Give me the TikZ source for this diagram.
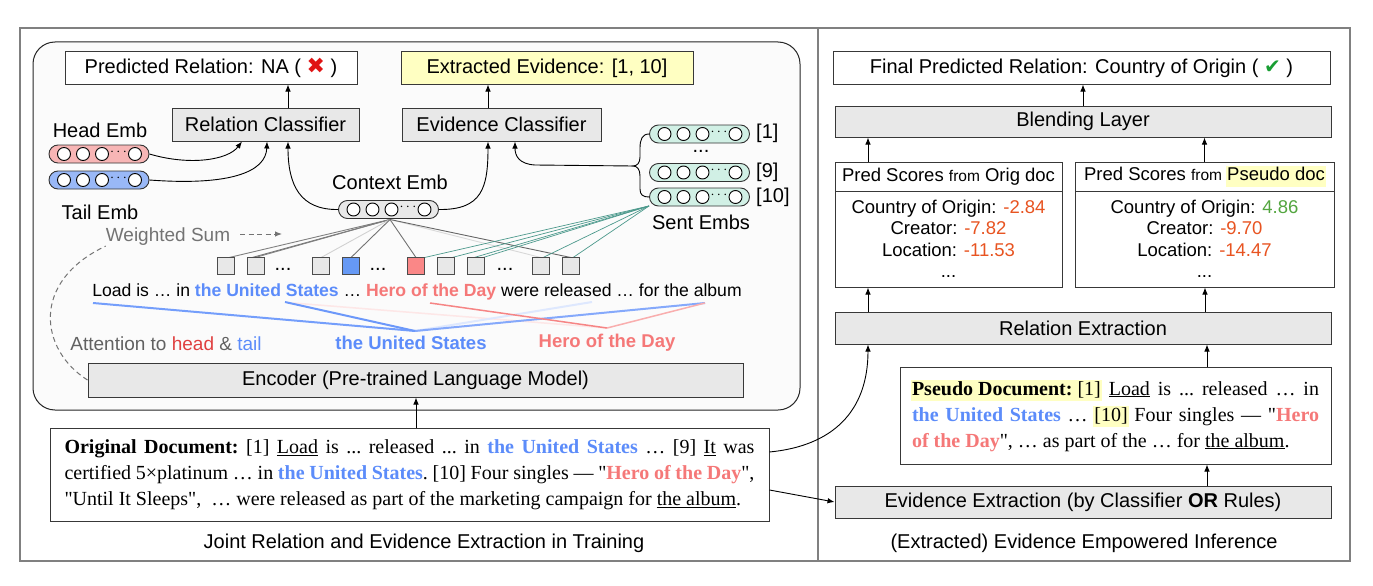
\documentclass[tikz,border=0pt]{standalone}
\usepackage{fontspec}
\setmainfont{Liberation Serif}
\setsansfont{Liberation Sans}
\newfontfamily\symfont{DejaVu Sans}
\newfontfamily\qfont{Liberation Serif}
\usetikzlibrary{arrows.meta,calc}
\definecolor{boxgray}{gray}{0.91}
\definecolor{hly}{rgb}{1,1,0.76}
\definecolor{entblue}{rgb}{0.36,0.55,0.98}
\definecolor{entred}{rgb}{0.96,0.47,0.47}
\definecolor{headred}{rgb}{0.88,0.25,0.25}
\definecolor{scorered}{rgb}{0.91,0.33,0.13}
\definecolor{scoregreen}{rgb}{0.33,0.65,0.25}
\definecolor{checkgreen}{rgb}{0.10,0.62,0.20}
\definecolor{crossred}{rgb}{0.88,0.08,0.08}
\definecolor{headpink}{rgb}{0.97,0.71,0.71}
\definecolor{tailblue}{rgb}{0.60,0.72,0.97}
\definecolor{sentteal}{rgb}{0.82,0.94,0.90}
\definecolor{tealline}{rgb}{0.30,0.60,0.55}
\definecolor{panelbg}{gray}{0.985}
\definecolor{tokblue}{rgb}{0.40,0.60,0.96}
\definecolor{tokred}{rgb}{0.98,0.53,0.53}
\newcommand\hlt[1]{{\setlength\fboxsep{1.5pt}\kern-1.5pt\colorbox{hly}{\rule[-4pt]{0pt}{16pt}#1}\kern-1.5pt}}
\newcommand\dq{{\qfont\symbol{34}}}
\tikzset{
  pics/pill/.style={code={
    \node[draw=black!80, line width=0.9pt, fill=#1, rounded corners=9pt,
          minimum width=100pt, minimum height=18pt, inner sep=0pt] (-b) at (0,0) {};
    \foreach \cx in {-35,-16,3,36} \draw[fill=white, line width=0.9pt] (\cx,0) circle (6.5pt);
    \node[inner sep=0pt, font=\fontsize{14}{14}\selectfont] (-d) at (19.5,-2) {$\cdots$};
  }}
}
\begin{document}
\begin{tikzpicture}[x=1pt,y=-1pt,
  lbl/.style={inner sep=0pt, font=\sffamily\fontsize{20}{24}\selectfont},
  box/.style={draw=black!78, line width=1pt, inner sep=0pt, font=\sffamily\fontsize{20}{24}\selectfont},
  gbox/.style={box, fill=boxgray},
  arr/.style={-{Latex[length=7pt,width=5.5pt]}, line width=0.9pt},
  tok/.style={draw=black!70, line width=0.9pt, fill=boxgray, minimum size=16pt, inner sep=0pt},
  docbox/.style={box, fill=white, align=justify, font=\rmfamily\fontsize{20}{26}\selectfont\frenchspacing}
]
\path[use as bounding box] (0,0) rectangle (1373,586);
\fill[white] (0,0) rectangle (1373,586);
\draw[black!50, line width=1.5pt] (20,28) rectangle (1350,561);
\draw[black!50, line width=1.5pt] (818,28) -- (818,561);
\draw[black!85, line width=1pt, fill=panelbg, rounded corners=22pt] (33,42) rectangle (800,410);

% ---------- left: top boxes
\node[box, fill=white, minimum width=292pt, minimum height=32pt] (pred) at (211,68)
  {Predicted Relation: NA ( {\symfont\fontsize{22}{24}\selectfont\color{crossred}✖} )};
\node[box, fill=hly, minimum width=292pt, minimum height=32pt] (evid) at (547,68)
  {Extracted Evidence: [1, 10]};
\node[gbox, minimum width=187pt, minimum height=33pt] (rc) at (265.5,124.5) {Relation Classifier};
\node[gbox, minimum width=199pt, minimum height=33pt] (ec) at (501.5,124.5) {Evidence Classifier};
\draw[arr] ([xshift=22.5pt]rc.north) -- ([xshift=22.5pt]rc.north |- pred.south);
\draw[arr] ([xshift=-13.5pt]ec.north) -- ([xshift=-13.5pt]ec.north |- evid.south);

% ---------- embeddings
\pic (head) at (99,154) {pill=headpink};
\pic (tail) at (99,180) {pill=tailblue};
\pic (ctx) at (388.5,209.5) {pill=boxgray};
\pic (s1) at (699.5,134) {pill=sentteal};
\pic (s9) at (699.5,172.5) {pill=sentteal};
\pic (s10) at (699.5,197) {pill=sentteal};
\node[lbl] (headl) at (100,130) {Head Emb};
\node[lbl] (taill) at (100,212) {Tail Emb};
\node[lbl] (ctxl) at (390,182) {Context Emb};
\node[lbl] (sentl) at (701,222) {Sent Embs};
\node[lbl, anchor=west] (l1) at (756,133) {[1]};
\node[lbl] (ldots) at (701,151) {...};
\node[lbl, anchor=west] (l9) at (756,172) {[9]};
\node[lbl, anchor=west] (l10) at (756,197) {[10]};

\draw[arr] (head-b.east) .. controls (190,166) and (228,160) .. ([xshift=-23.5pt]rc.south);
\draw[arr] (tail-b.east) .. controls (230,186) and (266,172) .. ([xshift=1.5pt]rc.south);
\draw[arr] (ctx-b.west) .. controls (300,210) and (288,185) .. ([xshift=22.5pt]rc.south);
\draw[arr] (ctx-b.east) .. controls (482,210) and (488,188) .. ([xshift=-13.5pt]ec.south);
\coordinate (bt) at (633,166);
\draw[line width=0.9pt] (s1-b.west) .. controls (642,134) and (640,140) .. (640,148) -- (640,157)
   .. controls (640,163) and (637,166) .. (bt)
   .. controls (637,166) and (640,169) .. (640,176) -- (640,189)
   .. controls (640,195) and (643,197) .. (s10-b.west);
\draw[arr] (bt) -- (535,165) .. controls (519,164) and (515,156) .. ([xshift=13.5pt]ec.south);

% ---------- tokens
\coordinate (co) at (390,219.5);
\coordinate (so) at (649,206);
\node[tok] (t1) at (226,266) {};
\node[tok] (t2) at (256,266) {};
\node[tok] (t3) at (321,266) {};
\node[tok, fill=tokblue] (t4) at (351,266) {};
\node[tok, fill=tokred] (t5) at (416,266) {};
\node[tok] (t6) at (446,266) {};
\node[tok] (t7) at (476,266) {};
\node[tok] (t8) at (541,266) {};
\node[tok] (t9) at (571,266) {};
\node[lbl] (dd1) at (283,269) {...};
\node[lbl] (dd2) at (378,269) {...};
\node[lbl] (dd3) at (505,269) {...};
\draw[black!50, line width=0.9pt] (co) -- ([xshift=3pt]t1.north);
\draw[black!55, line width=0.9pt] (co) -- ([xshift=-4pt]t2.north);
\draw[black!50, line width=0.9pt] (co) -- ([xshift=-1pt]t2.north);
\draw[black!18, line width=0.9pt] (co) -- (t3.north);
\draw[black!55, line width=0.9pt] (co) -- (t4.north);
\draw[black!55, line width=0.9pt] (co) -- (t5.north);
\draw[black!15, line width=0.9pt] (co) -- (t8.north);
\draw[black!60, line width=0.9pt] (co) -- (t9.north);
\draw[tealline, line width=0.7pt] (so) -- (t5.north east);
\draw[tealline, line width=0.7pt] (so) -- ([xshift=6pt]t6.north);
\draw[tealline, line width=0.7pt] (so) -- ([xshift=-2pt]t7.north);
\draw[tealline, line width=0.7pt] (so) -- ([xshift=7pt]t7.north);
\draw[tealline, line width=0.7pt] (so) -- ([xshift=2pt]t8.north);
\draw[tealline, line width=0.7pt] (so) -- ([xshift=2pt]t9.north);
\foreach \t in {t1,t2,t3,t6,t7,t8,t9} \draw[draw=black!70, line width=0.9pt, fill=boxgray] (\t.south west) rectangle (\t.north east);
\draw[draw=black!70, line width=0.9pt, fill=tokblue] (t4.south west) rectangle (t4.north east);
\draw[draw=black!70, line width=0.9pt, fill=tokred] (t5.south west) rectangle (t5.north east);

% ---------- sentence and attention
\node[inner sep=0pt, font=\sffamily\fontsize{17.6}{21}\selectfont] (sent) at (417,292)
  {Load is … in \textcolor{entblue}{\bfseries the United States} … \textcolor{entred}{\bfseries Hero of the Day} were released … for the album};
\coordinate (bc) at (415,331);
\coordinate (rcv) at (607,328);
\coordinate (aLoad) at (93,303);
\coordinate (aUS) at (285,302);
\coordinate (aUS2) at (293,303);
\coordinate (aRel) at (592,302);
\coordinate (aAlb) at (705,303);
\coordinate (aHero) at (430,303);
\draw[entred!18, line width=1.5pt] (aUS2) -- (rcv);
\draw[entblue!20, line width=2pt] (bc) -- (aRel);
\draw[entblue!75, line width=2pt] (bc) -- (aAlb);
\draw[entred!90, line width=1.5pt] (aHero) -- (rcv);
\draw[entred!60, line width=1.5pt] (rcv) -- (aAlb);
\draw[entblue!85, line width=2pt] (aLoad) -- (bc);
\draw[entblue!90, line width=2pt] (aUS) -- (bc);
\node[inner sep=0pt, font=\sffamily\bfseries\fontsize{18.5}{22}\selectfont, text=entblue] (usl) at (411,343) {the United States};
\node[inner sep=0pt, font=\sffamily\bfseries\fontsize{18.5}{22}\selectfont, text=entred] (hdl) at (607,343) {Hero of the Day};
\node[inner sep=0pt, font=\sffamily\fontsize{19}{22}\selectfont, text=black!62] (att) at (166,344)
  {Attention to \textcolor{headred}{head} \& \textcolor{entblue}{tail}};
\node[inner sep=0pt, font=\sffamily\fontsize{19}{22}\selectfont, text=black!55] (ws) at (168,237) {Weighted Sum};
\coordinate (wss) at (240,234);
\coordinate (wsa) at (282,234);
\draw[black!55, line width=1pt, dash pattern=on 5pt off 3.5pt, -{Latex[length=7pt,width=5.5pt]}] (wss) -- (wsa);

% ---------- encoder and original document
\node[gbox, minimum width=655pt, minimum height=34pt] (enc) at (415.5,380) {Encoder (Pre-trained Language Model)};
\draw[black!55, line width=1pt, dash pattern=on 5pt off 3.5pt] (enc.west) .. controls (40,350) and (30,282) .. (ws.south west);
\node[docbox, minimum width=719pt, minimum height=93pt, text width=690pt] (od) at (409.5,474.5)
  {\textbf{Original Document:} [1] \underline{Load} is ... released ... in \textcolor{entblue}{\textbf{the United States}} … [9] \underline{It} was\linebreak
   certified 5×platinum … in \textcolor{entblue}{\textbf{the United States}}. [10] Four singles — \dq\textcolor{entred}{\textbf{Hero of the Day}}\dq,\linebreak
   \dq Until It Sleeps\dq,\ \ … were released as part of the marketing campaign for \underline{the album}.};
\draw[arr] ([xshift=6.5pt]od.north) -- ([xshift=6.5pt]od.north |- enc.south);
\node[lbl] (capl) at (424,543) {Joint Relation and Evidence Extraction in Training};

% ---------- right side
\node[box, fill=white, minimum width=497pt, minimum height=32pt] (final) at (1081.5,68)
  {Final Predicted Relation: Country of Origin ( {\symfont\color{checkgreen}✔} )};
\node[gbox, minimum width=496pt, minimum height=31pt] (blend) at (1083,121.5) {Blending Layer};
\draw[arr] (blend.north) -- (blend.north |- final.south);

\node[box, fill=white, minimum width=227pt, minimum height=29pt, font=\sffamily\fontsize{18.5}{22}\selectfont] (osh) at (948.5,176.5)
  {Pred Scores {\fontsize{15.5}{18}\selectfont from} Orig doc};
\node[box, fill=white, minimum width=227pt, minimum height=96pt, align=center, font=\sffamily\fontsize{18.5}{21.5}\selectfont] (osb) at (948.5,239)
  {Country of Origin: \textcolor{scorered}{-2.84}\\ Creator: \textcolor{scorered}{-7.82}\\ Location: \textcolor{scorered}{-11.53}\\ ...};
\node[box, fill=white, minimum width=259pt, minimum height=29pt, font=\sffamily\fontsize{18.5}{22}\selectfont] (psh) at (1204.5,176.5)
  {Pred Scores {\fontsize{15.5}{18}\selectfont from} {\setlength\fboxsep{1.5pt}\kern-1.5pt\colorbox{hly}{\rule[-4.5pt]{0pt}{17pt}Pseudo doc}\kern-1.5pt}};
\node[box, fill=white, minimum width=259pt, minimum height=96pt, align=center, font=\sffamily\fontsize{18.5}{21.5}\selectfont] (psb) at (1204.5,239)
  {Country of Origin: \textcolor{scoregreen}{4.86}\\ Creator: \textcolor{scorered}{-9.70}\\ Location: \textcolor{scorered}{-14.47}\\ ...};
\draw[arr] ([xshift=-80.5pt]osh.north) -- ([xshift=-80.5pt]osh.north |- blend.south);
\draw[arr] (psh.north) -- (psh.north |- blend.south);

\node[gbox, minimum width=496pt, minimum height=32pt] (re) at (1083,328) {Relation Extraction};
\draw[arr] ([xshift=-215pt]re.north) -- ([xshift=-215pt]re.north |- osb.south);
\draw[arr] ([xshift=122pt]re.north) -- ([xshift=122pt]re.north |- psb.south);

\node[docbox, minimum width=431pt, minimum height=97pt, text width=407pt] (pd) at (1115.5,415.5)
  {\hlt{\textbf{Pseudo Document:} [1]} \underline{Load} is ... released … in\linebreak
   \textcolor{entblue}{\textbf{the United States}} … \hlt{[10]} Four singles — \dq\textcolor{entred}{\textbf{Hero}}\linebreak
   \textcolor{entred}{\textbf{of the Day}}\dq, … as part of the … for \underline{the album}.};
\draw[arr] ([xshift=91.5pt]pd.north) -- ([xshift=91.5pt]pd.north |- re.south);

\node[gbox, minimum width=496pt, minimum height=32pt] (ee) at (1083,502) {Evidence Extraction (by Classifier \textbf{OR} Rules)};
\draw[arr] ([xshift=124pt]ee.north) -- ([xshift=124pt]ee.north |- pd.south);
\node[lbl] (capr) at (1084,543) {(Extracted) Evidence Empowered Inference};

\draw[arr] ([yshift=22.5pt]od.east) .. controls (832,446) and (868,412) .. ([xshift=-215pt]re.south);
\draw[arr] ([yshift=-15.5pt]od.east) -- (ee.west);
\end{tikzpicture}
\end{document}
